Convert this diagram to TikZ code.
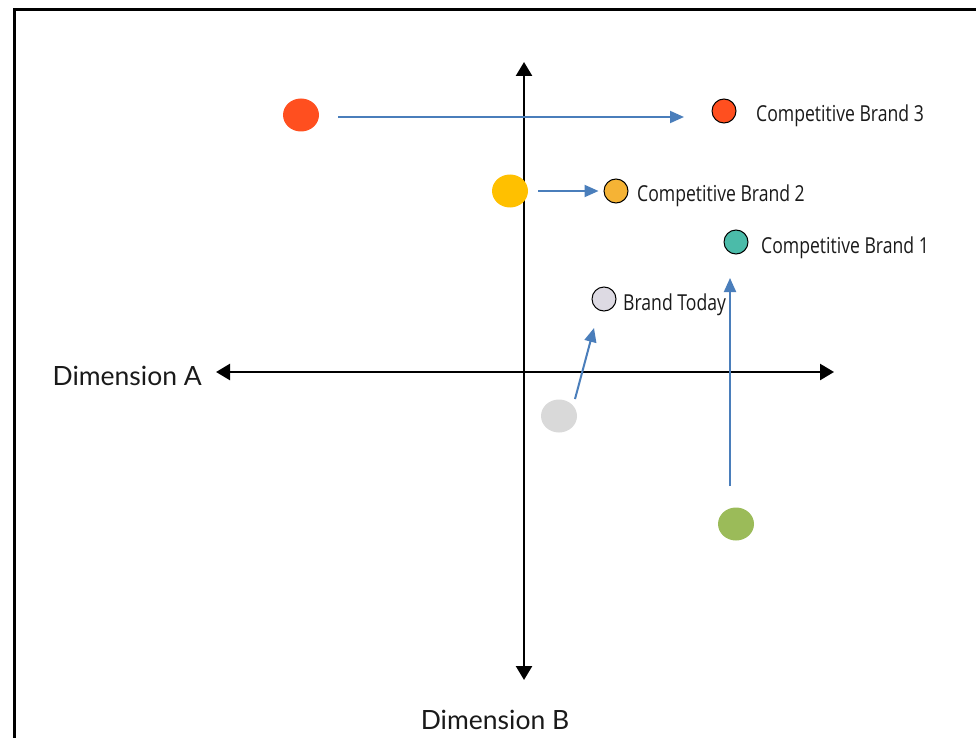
\documentclass[tikz,border=0pt]{standalone}
\usepackage{fontspec}
\setmainfont{Lato}
\newfontfamily\labfont[FakeStretch=0.8]{Open Sans}
\usetikzlibrary{arrows.meta,shapes.geometric}
\definecolor{cred}{HTML}{FF4F1F}
\definecolor{cyel}{HTML}{FFC000}
\definecolor{corg}{HTML}{F5B335}
\definecolor{cteal}{HTML}{4BBBA9}
\definecolor{clav}{HTML}{DDDAE3}
\definecolor{cgrey}{HTML}{D9D9D9}
\definecolor{cgreen}{HTML}{9BBB59}
\definecolor{cblue}{HTML}{4A7EBB}
\definecolor{ctext}{HTML}{1A1A1A}
\tikzset{
  bigdot/.style={ellipse, minimum width=36pt, minimum height=33pt, inner sep=0pt, draw=none},
  smalldot/.style={circle, minimum size=24pt, inner sep=0pt, draw=black, line width=1pt},
  lab/.style={anchor=west, inner sep=0pt, text=ctext, font=\labfont\fontsize{22}{26}\selectfont},
  axis/.style={line width=2.5pt, {Triangle[length=14pt,width=16pt]}-{Triangle[length=14pt,width=16pt]}},
  move/.style={cblue, line width=2pt, -{Triangle[length=14pt,width=12pt]}},
  dimlab/.style={inner sep=0pt, text=ctext, font=\fontsize{26.5}{30}\selectfont}
}
\begin{document}
\begin{tikzpicture}[x=1pt,y=-1pt]
\useasboundingbox (0,0) rectangle (976,738);
\clip (0,0) rectangle (976,738);
\fill[white] (0,0) rectangle (976,738);
\draw[line width=3pt] (14,10) rectangle (1000,760);
% axes
\coordinate (xl) at (216,372);
\coordinate (xr) at (834,372);
\coordinate (yt) at (524,62);
\coordinate (yb) at (524,680);
\draw[axis] (xl) -- (xr);
\draw[axis] (yt) -- (yb);
\node[dimlab, anchor=east] (dimA) at (202,376) {Dimension A};
\node[dimlab] (dimB) at (495,720) {Dimension B};
% big dots
\node[bigdot, fill=cred] (redbig) at (301,115) {};
\node[bigdot, fill=cyel] (yelbig) at (510,191) {};
\node[bigdot, fill=cgrey] (greybig) at (559,416) {};
\node[bigdot, fill=cgreen] (greenbig) at (736,524) {};
% small dots
\node[smalldot, fill=cred] (cb3) at (724,111) {};
\node[smalldot, fill=corg] (cb2) at (616,191) {};
\node[smalldot, fill=cteal] (cb1) at (736,242) {};
\node[smalldot, fill=clav] (today) at (604,299) {};
% labels
\node[lab] (l3) at (756,116) {Competitive Brand 3};
\node[lab] (l2) at (637,196) {Competitive Brand 2};
\node[lab] (l1) at (761,248) {Competitive Brand 1};
\node[lab] (lt) at (623,305) {Brand Today};
% arrows
\coordinate (rt) at (338,117);
\coordinate (rh) at (684,117);
\draw[move] (rt) -- (rh);
\draw[move, shorten <=10pt, shorten >=5pt] (yelbig) -- (cb2);
\coordinate (gt) at (575,399);
\coordinate (gh) at (594,328);
\draw[move] (gt) -- (gh);
\coordinate (grt) at (730,486);
\coordinate (grh) at (730,278);
\draw[move] (grt) -- (grh);
\end{tikzpicture}
\end{document}
